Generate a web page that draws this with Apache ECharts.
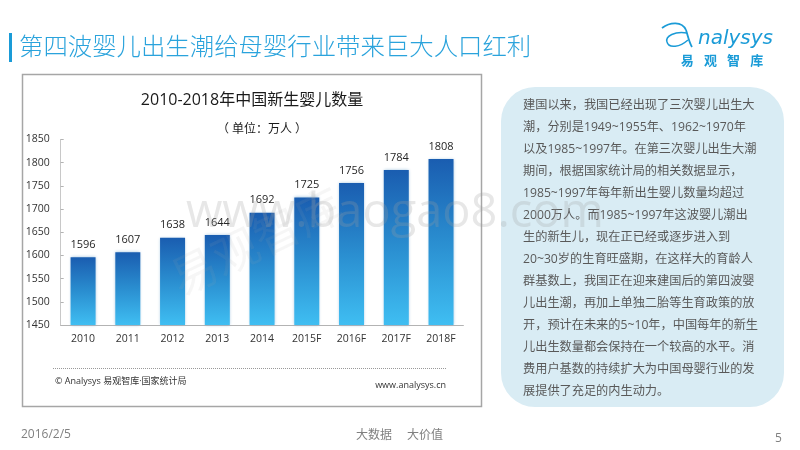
<!DOCTYPE html>
<html>
<head>
    <meta charset="utf-8">
    <title>第四波婴儿出生潮</title>
    <script src="https://cdn.jsdelivr.net/npm/echarts@6/dist/echarts.min.js"></script>
    <style>
        html, body { margin: 0; padding: 0; background: #fff; }
        #main { width: 800px; height: 450px; }
    </style>
</head>
<body>
    <div id="main"></div>
    <script>
        var years = ['2010', '2011', '2012', '2013', '2014', '2015F', '2016F', '2017F', '2018F'];
        var births = [1596, 1607, 1638, 1644, 1692, 1725, 1756, 1784, 1808];
        var textLines = [
            '建国以来，我国已经出现了三次婴儿出生大',
            '潮，分别是1949~1955年、1962~1970年',
            '以及1985~1997年。在第三次婴儿出生大潮',
            '期间，根据国家统计局的相关数据显示，',
            '1985~1997年每年新出生婴儿数量均超过',
            '2000万人。而1985~1997年这波婴儿潮出',
            '生的新生儿，现在正已经或逐步进入到',
            '20~30岁的生育旺盛期，在这样大的育龄人',
            '群基数上，我国正在迎来建国后的第四波婴',
            '儿出生潮，再加上单独二胎等生育政策的放',
            '开，预计在未来的5~10年，中国每年的新生',
            '儿出生数量都会保持在一个较高的水平。消',
            '费用户基数的持续扩大为中国母婴行业的发',
            '展提供了充足的内生动力。'
        ];

        var font = '"Open Sans", "Noto Sans CJK SC", sans-serif';
        var myChart = echarts.init(document.getElementById('main'));

        function label(x, y, str, size, color, align, extra) {
            var style = { x: x, y: y, text: str, fontSize: size, fill: color, align: align || 'left', verticalAlign: 'middle', fontFamily: font };
            for (var k in extra) style[k] = extra[k];
            return { type: 'text', style: style };
        }

        function curve(x1, y1, cx1, cy1, cx2, cy2, x2, y2, width) {
            return {
                type: 'bezierCurve',
                shape: { x1: x1, y1: y1, cpx1: cx1, cpy1: cy1, cpx2: cx2, cpy2: cy2, x2: x2, y2: y2 },
                style: { stroke: '#1a9bd7', lineWidth: width, fill: null }
            };
        }

        var shapes = [
            // 左侧图表外框和右侧文字底板
            { type: 'rect', z: -2, shape: { x: 22.5, y: 74.5, width: 459, height: 332 }, style: { fill: '#fff', stroke: '#a6a6a6', lineWidth: 1.5 } },
            { type: 'rect', z: -2, shape: { x: 501, y: 87, width: 283, height: 320, r: 34 }, style: { fill: '#d9ecf4' } },
            // 标题
            { type: 'rect', shape: { x: 9, y: 33, width: 3, height: 29 }, style: { fill: '#1a9bd7' } },
            label(19, 48, '第四波婴儿出生潮给母婴行业带来巨大人口红利', 24.4, '#2aa3dc', 'left', { fontWeight: 300 }),
            label(252, 100, '2010-2018年中国新生婴儿数量', 16, '#1a1a1a', 'center'),
            label(262, 130, '（ 单位：万人 ）', 12, '#1a1a1a', 'center'),
            // 底部来源
            { type: 'line', shape: { x1: 53, y1: 368.5, x2: 447, y2: 368.5 }, style: { stroke: '#999', lineWidth: 1, lineDash: [1, 1] } },
            label(55, 381, '© Analysys 易观智库·国家统计局', 9, '#333'),
            label(446, 385, 'www.analysys.cn', 9, '#333', 'right'),
            // 页脚
            label(21, 435, '2016/2/5', 12, '#808080'),
            label(356, 436, '大数据', 12, '#808080'),
            label(407, 436, '大价值', 12, '#808080'),
            label(775, 439, '5', 12, '#808080'),
            // logo
            label(773, 39, 'nalysys', 20, '#1a9bd7', 'right', { fontStyle: 'italic', fontFamily: '"DejaVu Sans", sans-serif' }),
            curve(662, 28, 670, 22, 682, 21, 686, 30, 1.8),
            curve(686, 30, 688, 36, 689, 42, 692, 47, 1.8),
            curve(687, 33, 675, 31, 665, 36, 667, 42, 1.5),
            curve(667, 42, 669, 49, 680, 47, 688, 40, 1.5),
            label(722, 61, '易   观   智   库', 13, '#1a9bd7', 'center', { fontWeight: 'bold' }),
            // 水印
            { type: 'text', z: 20, style: { x: 395, y: 214, text: 'www.baogao8.com', fontSize: 47, fill: 'rgba(160,160,160,0.25)', align: 'center', verticalAlign: 'middle', fontFamily: '"Open Sans", sans-serif' } },
            { type: 'text', z: 20, x: 258, y: 245, rotation: 0.45, style: { text: '易观智库', fontSize: 46, fill: 'rgba(170,170,170,0.1)', align: 'center', verticalAlign: 'middle', fontFamily: font } }
        ];
        // 右侧说明文字，逐行放置
        textLines.forEach(function(line, i) {
            shapes.push(label(523, 105.7 + i * 22, line, 12.2, '#595959'));
        });

        var option = {
            animation: false,
            textStyle: { fontFamily: font },
            grid: { left: 60.7, right: 336.6, top: 139.5, bottom: 125 },
            xAxis: {
                type: 'category',
                data: years,
                axisLine: { lineStyle: { color: '#b3b3b3', width: 1 } },
                axisTick: { show: false },
                axisLabel: { color: '#333', fontSize: 10.5, margin: 9, fontFamily: '"Open Sans", sans-serif' }
            },
            yAxis: {
                type: 'value',
                min: 1450,
                max: 1850,
                interval: 50,
                splitLine: { show: false },
                axisLine: { show: true, lineStyle: { color: '#c8c8c8', width: 1 } },
                axisTick: { show: true, inside: true, length: 3, lineStyle: { color: '#b3b3b3' } },
                axisLabel: {
                    color: '#333',
                    fontSize: 10.5,
                    margin: 11,
                    fontFamily: '"Open Sans", sans-serif',
                    formatter: function(v) { return String(v); }
                }
            },
            series: [{
                type: 'bar',
                data: births,
                barWidth: 25,
                itemStyle: {
                    color: new echarts.graphic.LinearGradient(0, 0, 0, 1, [
                        { offset: 0, color: '#1a5db0' },
                        { offset: 0.5, color: '#2a8ed0' },
                        { offset: 1, color: '#3fbef2' }
                    ]),
                    shadowColor: 'rgba(120,170,210,0.7)',
                    shadowBlur: 3
                },
                label: { show: true, position: 'top', distance: 7, color: '#262626', fontSize: 11, fontFamily: '"Open Sans", sans-serif' }
            }],
            graphic: { elements: shapes }
        };
        myChart.setOption(option);
    </script>
</body>
</html>
